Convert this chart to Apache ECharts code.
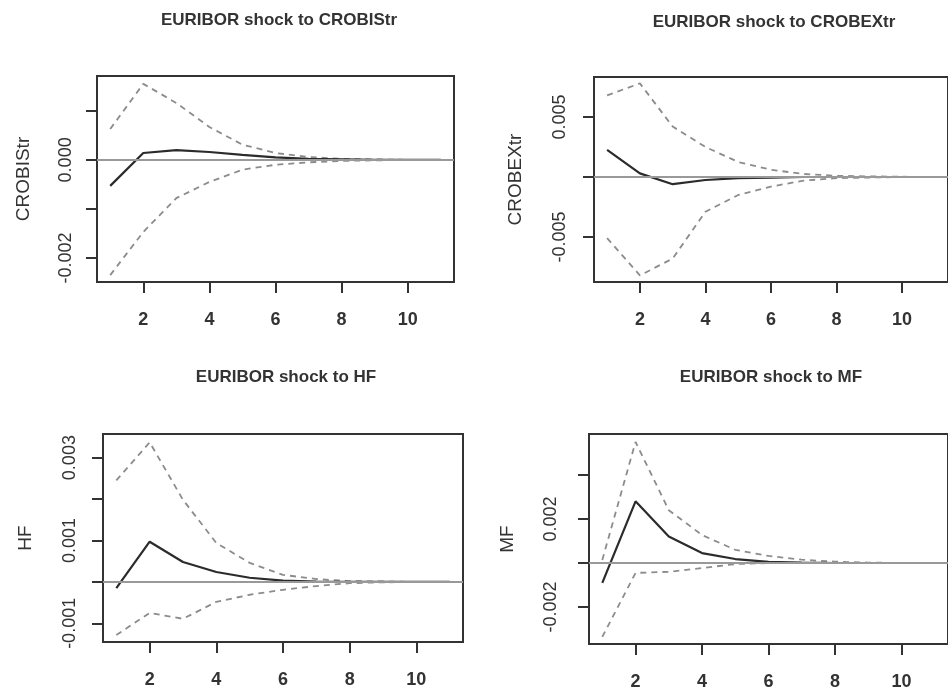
<!DOCTYPE html>
<html>
<head>
<meta charset="utf-8">
<script src="https://cdn.jsdelivr.net/npm/echarts@6/dist/echarts.min.js"></script>
<style>
html, body { margin: 0; padding: 0; background: #fff; }
#chart { width: 948px; height: 693px; }
</style>
</head>
<body>
<div id="chart"></div>
<script>
// horizon steps
var horizon = [1, 2, 3, 4, 5, 6, 7, 8, 9, 10, 11];

// EURIBOR -> CROBIStr
var crobisIrf   = [-0.00053, 0.00014, 0.0002, 0.00016, 0.0001, 0.00005, 0.00002, 0.00001, 0, 0, 0];
var crobisUpper = [0.00063, 0.00155, 0.00116, 0.00067, 0.00031, 0.00014, 0.00006, 0.00002, 0.00001, 0, 0];
var crobisLower = [-0.00235, -0.00147, -0.00078, -0.00045, -0.0002, -0.0001, -0.00005, -0.00002, -0.00001, 0, 0];

// EURIBOR -> CROBEXtr
var crobexIrf   = [0.00225, 0.0003, -0.0006, -0.00025, -0.0001, -0.00005, 0, 0, 0, 0, 0];
var crobexUpper = [0.0068, 0.0078, 0.0042, 0.0025, 0.00125, 0.0006, 0.00025, 0.0001, 0.00005, 0.00002, 0];
var crobexLower = [-0.0051, -0.0082, -0.0068, -0.0029, -0.0015, -0.0008, -0.0003, -0.0001, -0.00005, 0, 0];

// EURIBOR -> HF
var hfIrf   = [-0.00015, 0.00097, 0.00048, 0.00024, 0.0001, 0.00003, 0.00001, 0, 0, 0, 0];
var hfUpper = [0.00245, 0.00337, 0.00198, 0.00094, 0.00046, 0.00017, 0.00007, 0.00002, 0.00001, 0, 0];
var hfLower = [-0.00128, -0.00075, -0.00089, -0.00048, -0.00031, -0.00019, -0.0001, -0.00003, -0.00001, 0, 0];

// EURIBOR -> MF
var mfIrf   = [-0.0009, 0.0028, 0.0012, 0.00045, 0.00018, 0.00005, 0.00002, 0, 0, 0, 0];
var mfUpper = [0.00014, 0.0055, 0.0024, 0.00127, 0.0006, 0.00032, 0.00015, 0.00006, 0.00002, 0, 0];
var mfLower = [-0.00336, -0.00045, -0.0004, -0.00023, -0.00005, 0, 0, 0, 0, 0, 0];

// axis ticks / labels
var xTicks = [2, 4, 6, 8, 10];
var titles = ['EURIBOR shock to CROBIStr', 'EURIBOR shock to CROBEXtr', 'EURIBOR shock to HF', 'EURIBOR shock to MF'];
var yNames = ['CROBIStr', 'CROBEXtr', 'HF', 'MF'];
var yTicks = [
    [0.001, 0, -0.001, -0.002],
    [0.005, 0, -0.005],
    [0.003, 0.002, 0.001, 0, -0.001],
    [0.004, 0.002, 0, -0.002]
];
var yLabels = [
    [0, -0.002],
    [0.005, -0.005],
    [0.003, 0.001, -0.001],
    [0.002, -0.002]
];
var yRange = [
    [-0.00249, 0.00171],
    [-0.00875, 0.00833],
    [-0.00145, 0.00357],
    [-0.00368, 0.00586]
];

var panels = [
    { irf: crobisIrf, up: crobisUpper, lo: crobisLower },
    { irf: crobexIrf, up: crobexUpper, lo: crobexLower },
    { irf: hfIrf, up: hfUpper, lo: hfLower },
    { irf: mfIrf, up: mfUpper, lo: mfLower }
];

// plot boxes (px), title centre, label / name gaps
var boxes = [
    { left: 97, top: 76, width: 357, height: 206, tx: 274, ty: 7, lm: 22, ng: 64 },
    { left: 594, top: 77, width: 356, height: 205, tx: 769, ty: 9, lm: 25, ng: 69 },
    { left: 103, top: 434, width: 360, height: 208, tx: 281, ty: 364, lm: 24, ng: 68 },
    { left: 589, top: 434, width: 362, height: 210, tx: 766, ty: 364, lm: 29, ng: 72 }
];

function pairs(vals) {
    return horizon.map(function (h, i) { return [h, vals[i]]; });
}

var font = 'Liberation Sans, Arial, sans-serif';
var title = [], grid = [], xAxis = [], yAxis = [], series = [];

for (let i = 0; i < 4; i++) {
    let b = boxes[i];
    title.push({
        text: titles[i],
        left: b.tx,
        top: b.ty,
        textAlign: 'center',
        textStyle: { fontFamily: font, fontSize: 17, fontWeight: 'bold', color: '#333' }
    });
    grid.push({
        left: b.left, top: b.top, width: b.width, height: b.height,
        show: true, borderColor: '#333', borderWidth: 2, backgroundColor: '#fff'
    });
    xAxis.push({
        gridIndex: i, type: 'value', min: 0.6, max: 11.4,
        axisLine: { show: false, onZero: false },
        splitLine: { show: false },
        axisTick: { show: true, length: 11, customValues: xTicks, lineStyle: { color: '#333', width: 2 } },
        axisLabel: {
            customValues: xTicks, margin: 29,
            fontFamily: font, fontSize: 18, fontWeight: 'bold', color: '#333'
        }
    });
    yAxis.push({
        gridIndex: i, type: 'value', min: yRange[i][0], max: yRange[i][1],
        name: yNames[i], nameLocation: 'middle', nameGap: b.ng, nameRotate: 90,
        nameTextStyle: { fontFamily: font, fontSize: 19, color: '#333' },
        axisLine: { show: false, onZero: false },
        splitLine: { show: false },
        axisTick: { show: true, length: 11, customValues: yTicks[i], lineStyle: { color: '#333', width: 2 } },
        axisLabel: {
            customValues: yLabels[i], rotate: 90, margin: b.lm,
            fontFamily: font, fontSize: 18, color: '#333',
            formatter: function (v) { return v.toFixed(3); }
        }
    });
    let p = panels[i];
    series.push({
        type: 'line', xAxisIndex: i, yAxisIndex: i, data: pairs(p.up),
        symbol: 'none', lineStyle: { color: '#8c8c8c', width: 1.8, type: [6, 5] }
    });
    series.push({
        type: 'line', xAxisIndex: i, yAxisIndex: i, data: pairs(p.lo),
        symbol: 'none', lineStyle: { color: '#8c8c8c', width: 1.8, type: [6, 5] }
    });
    series.push({
        type: 'line', xAxisIndex: i, yAxisIndex: i, data: pairs(p.irf),
        symbol: 'none', lineStyle: { color: '#2b2b2b', width: 2.2 },
        markLine: {
            silent: true, symbol: 'none', label: { show: false },
            lineStyle: { color: '#999', width: 1.8, type: 'solid' },
            data: [{ yAxis: 0 }]
        }
    });
}

var chart = echarts.init(document.getElementById('chart'));
chart.setOption({
    animation: false,
    title: title,
    grid: grid,
    xAxis: xAxis,
    yAxis: yAxis,
    series: series
});
</script>
</body>
</html>
